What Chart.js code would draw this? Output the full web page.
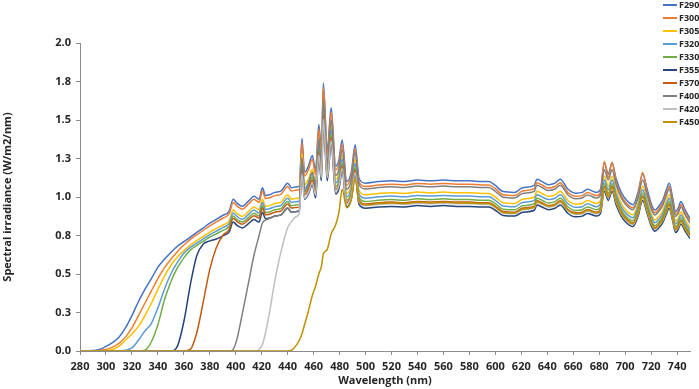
<!DOCTYPE html>
<html>
<head>
<meta charset="utf-8">
<script src="https://cdn.jsdelivr.net/npm/chart.js@4.4.1/dist/chart.umd.min.js"></script>
<style>
html,body{margin:0;padding:0;background:#fff;}
#wrap{position:relative;width:699px;height:389px;}
canvas{display:block;}
</style>
</head>
<body>
<div id="wrap"><canvas id="c" width="699" height="389"></canvas></div>
<script>
// ---- data ----
const wavelengths = [280,285,290,295,300,305,310,315,320,325,
330,335,340,345,350,355,360,365,370,375,
380,385,390,395,398,401,405,410,414,418,
420.5,423,426,430,435,440,443,446,449,451,
453,456,459,461.5,464,466,467.5,470.5,473.5,477,
479.5,482,485.5,489,492,495,500,510,520,530,
540,550,560,570,580,590,595,600,606,615,
621,630,632,636,641,646,650,656,662,667,
671,678,681,684,687,690,693,697,701,706,
710,713.5,717,720,723,726,729,731.5,734,736.5,
739,741,743,746,750];

const F290 = [0,0,.003,.01,.03,.055,.09,.15,.23,.32,
.40,.47,.545,.595,.64,.68,.71,.74,.77,.80,
.83,.855,.88,.91,.985,.96,.94,.975,1.005,.985,
1.06,1.01,1.015,1.03,1.04,1.09,1.06,1.065,1.07,1.38,
1.16,1.20,1.27,1.17,1.47,1.30,1.74,1.30,1.58,1.20,
1.24,1.37,1.10,1.16,1.34,1.12,1.09,1.10,1.105,1.10,
1.11,1.105,1.11,1.105,1.105,1.10,1.10,1.075,1.035,1.03,
1.06,1.075,1.115,1.10,1.08,1.09,1.115,1.05,1.025,1.03,
1.05,1.03,1.05,1.22,1.15,1.22,1.12,1.03,.98,.95,
1.03,1.15,1.05,.96,.915,.94,.98,1.04,1.09,1.0,
.905,.93,.97,.92,.86];

const F300 = [0,0,0,.003,.01,.025,.05,.09,.15,.23,
.31,.39,.47,.54,.595,.645,.688,.725,.755,.784,
.813,.838,.862,.892,.965,.941,.921,.956,.985,.965,
1.039,.99,.995,1.009,1.019,1.068,1.039,1.044,1.049,1.352,
1.137,1.176,1.245,1.147,1.441,1.274,1.71,1.274,1.548,1.176,
1.215,1.343,1.078,1.137,1.313,1.098,1.068,1.078,1.083,1.078,
1.088,1.083,1.088,1.083,1.083,1.078,1.078,1.054,1.014,1.009,
1.039,1.054,1.093,1.078,1.058,1.068,1.093,1.029,1.005,1.009,
1.029,1.009,1.029,1.23,1.127,1.225,1.098,1.009,.96,.931,
1.009,1.16,1.029,.941,.897,.921,.96,1.019,1.068,.98,
.887,.911,.951,.902,.843];

const F305 = [0,0,0,0,.003,.01,.03,.07,.11,.16,
.23,.31,.40,.485,.555,.61,.652,.688,.716,.744,
.772,.795,.818,.846,.916,.893,.874,.907,.935,.916,
.986,.939,.944,.958,.967,1.014,.986,.990,.995,1.283,
1.079,1.116,1.181,1.088,1.367,1.209,1.62,1.209,1.469,1.116,
1.153,1.274,1.023,1.079,1.246,1.042,1.014,1.023,1.028,1.023,
1.032,1.028,1.032,1.028,1.028,1.023,1.023,1.0,.963,.958,
.986,1.0,1.037,1.023,1.004,1.014,1.037,.977,.953,.958,
.977,.958,.977,1.135,1.07,1.135,1.042,.958,.911,.884,
.958,1.07,.977,.893,.851,.874,.911,.967,1.014,.93,
.842,.865,.902,.856,.80];

const F320 = [0,0,0,0,0,0,0,.005,.02,.07,
.13,.18,.28,.40,.50,.575,.635,.673,.701,.728,
.755,.778,.801,.828,.896,.874,.855,.887,.915,.896,
.965,.919,.924,.937,.946,.992,.965,.969,.974,1.256,
1.056,1.092,1.156,1.065,1.338,1.183,1.585,1.183,1.438,1.092,
1.128,1.247,1.001,1.056,1.219,1.019,.992,1.001,1.006,1.001,
1.01,1.006,1.01,1.006,1.006,1.001,1.001,.978,.942,.937,
.965,.978,1.015,1.001,.983,.992,1.015,.956,.933,.937,
.956,.937,.956,1.11,1.047,1.11,1.019,.937,.892,.865,
.937,1.047,.956,.874,.833,.855,.892,.946,.992,.91,
.824,.846,.883,.837,.783];

const F330 = [0,0,0,0,0,0,0,0,0,0,
.005,.06,.17,.33,.45,.54,.605,.655,.685,.712,
.739,.761,.783,.81,.877,.854,.837,.868,.894,.877,
.943,.899,.903,.917,.926,.970,.943,.948,.952,1.228,
1.032,1.068,1.13,1.041,1.308,1.157,1.549,1.157,1.406,1.068,
1.104,1.219,.979,1.032,1.193,.997,.970,.979,.983,.979,
.988,.983,.988,.983,.983,.979,.979,.957,.921,.917,
.943,.957,.992,.979,.961,.970,.992,.935,.912,.917,
.935,.917,.935,1.086,1.024,1.086,.997,.917,.872,.846,
.917,1.024,.935,.854,.814,.837,.872,.926,.970,.89,
.805,.828,.863,.819,.765];

const F355 = [0,0,0,0,0,0,0,0,0,0,
0,0,0,0,0,.03,.19,.43,.62,.695,
.715,.727,.748,.774,.837,.816,.799,.829,.854,.837,
.901,.859,.863,.876,.884,.927,.901,.905,.91,1.173,
.986,1.02,1.08,.995,1.25,1.105,1.479,1.105,1.343,1.02,
1.054,1.165,.935,.986,1.139,.952,.927,.935,.939,.935,
.944,.939,.944,.939,.939,.935,.935,.914,.88,.876,
.901,.914,.948,.935,.918,.927,.948,.893,.871,.876,
.893,.876,.893,1.037,.978,1.037,.952,.876,.833,.808,
.876,.978,.893,.816,.778,.799,.833,.884,.927,.85,
.769,.791,.825,.782,.731];

const F370 = [0,0,0,0,0,0,0,0,0,0,
0,0,0,0,0,0,0,.01,.12,.32,
.53,.67,.75,.79,.862,.84,.823,.853,.879,.862,
.928,.884,.888,.901,.91,.954,.928,.932,.936,1.208,
1.015,1.05,1.111,1.024,1.286,1.138,1.523,1.138,1.383,1.05,
1.085,1.199,.963,1.015,1.173,.98,.954,.963,.967,.963,
.971,.967,.971,.967,.967,.963,.963,.941,.906,.901,
.928,.941,.976,.963,.945,.954,.976,.919,.897,.901,
.919,.901,.919,1.068,1.006,1.068,.98,.901,.858,.831,
.901,1.006,.919,.84,.801,.823,.858,.91,.954,.875,
.792,.814,.849,.805,.753];

const F400 = [0,0,0,0,0,0,0,0,0,0,
0,0,0,0,0,0,0,0,0,0,
0,0,0,0,.01,.08,.24,.45,.62,.75,
.83,.85,.86,.875,.885,.93,.90,.905,.915,1.25,
1.04,1.08,1.16,1.07,1.38,1.21,1.63,1.22,1.50,1.14,
1.18,1.31,1.05,1.11,1.293,1.081,1.052,1.062,1.066,1.062,
1.071,1.066,1.071,1.066,1.066,1.062,1.062,1.037,.999,.994,
1.023,1.037,1.076,1.062,1.042,1.052,1.076,1.013,.989,.994,
1.013,.994,1.013,1.177,1.11,1.177,1.081,.994,.946,.917,
.994,1.11,1.013,.926,.883,.907,.946,1.004,1.052,.965,
.873,.897,.936,.888,.83];

const F420 = [0,0,0,0,0,0,0,0,0,0,
0,0,0,0,0,0,0,0,0,0,
0,0,0,0,0,0,0,0,0,.01,
.04,.12,.25,.45,.65,.80,.84,.87,.90,1.15,
.99,1.03,1.09,1.012,1.272,1.125,1.505,1.125,1.367,1.038,
1.073,1.185,.952,1.003,1.159,.969,.943,.952,.956,.952,
.96,.956,.96,.956,.956,.952,.952,.93,.895,.891,
.917,.93,.964,.952,.934,.943,.964,.908,.887,.891,
.908,.891,.908,1.055,.995,1.055,.969,.891,.848,.822,
.891,.995,.908,.83,.791,.813,.848,.90,.943,.865,
.783,.804,.839,.796,.744];

const F450 = [0,0,0,0,0,0,0,0,0,0,
0,0,0,0,0,0,0,0,0,0,
0,0,0,0,0,0,0,0,0,0,
0,0,0,0,0,0,.005,.03,.07,.11,
.17,.26,.36,.42,.50,.55,.63,.66,.76,.82,
.90,1.05,.93,.98,1.12,.97,.948,.957,.961,.957,
.966,.961,.966,.961,.961,.957,.957,.935,.90,.896,
.922,.935,.97,.957,.94,.948,.97,.914,.892,.896,
.914,.896,.914,1.061,1.0,1.061,.974,.896,.853,.827,
.896,1.0,.914,.835,.796,.818,.853,.905,.948,.87,
.787,.809,.844,.80,.748];

const seriesNames = ['F290','F300','F305','F320','F330','F355','F370','F400','F420','F450'];
const seriesValues = [F290,F300,F305,F320,F330,F355,F370,F400,F420,F450];
const xTickValues = [280,300,320,340,360,380,400,420,440,460,480,500,520,540,560,580,600,620,640,660,680,700,720,740];
const yTickValues = [0,0.25,0.5,0.75,1.0,1.25,1.5,1.75,2.0];

// ---- styles ----
const seriesColors = ['#4472C4','#ED7D31','#FFC000','#5B9BD5','#70AD47','#264478','#C55A11','#7F7F7F','#BFBFBF','#BF9000'];
const FONT = '"Open Sans", "Liberation Sans", sans-serif';
const TEXT = '#262626';
const AXIS = '#8C8C8C';

const datasets = seriesNames.map((name, i) => ({
  label: name,
  data: wavelengths.map((x, j) => ({x: x, y: seriesValues[i][j]})),
  borderColor: seriesColors[i],
  backgroundColor: seriesColors[i],
  borderWidth: 1.5,
  pointRadius: 0,
  fill: false,
  cubicInterpolationMode: 'monotone',
  order: seriesNames.length - i
}));

const legendPlugin = {
  id: 'sideLegend',
  afterDraw(chart) {
    const ctx = chart.ctx;
    ctx.save();
    ctx.font = 'bold 9px ' + FONT;
    ctx.textBaseline = 'middle';
    ctx.textAlign = 'left';
    seriesNames.forEach((name, i) => {
      const y = 5 + i * 13;
      ctx.strokeStyle = seriesColors[i];
      ctx.lineWidth = 2;
      ctx.beginPath();
      ctx.moveTo(663, y);
      ctx.lineTo(677, y);
      ctx.stroke();
      ctx.fillStyle = TEXT;
      ctx.fillText(name, 679, y);
    });
    ctx.restore();
  }
};

new Chart(document.getElementById('c'), {
  type: 'line',
  data: { datasets },
  plugins: [legendPlugin],
  options: {
    responsive: false,
    animation: false,
    devicePixelRatio: 1,
    layout: { padding: { top: 43, right: 9, left: 0, bottom: 0 } },
    plugins: { legend: { display: false }, tooltip: { enabled: false } },
    scales: {
      x: {
        type: 'linear',
        min: 280, max: 750,
        afterBuildTicks(scale) { scale.ticks = xTickValues.map(v => ({value: v})); },
        afterFit(scale) { scale.height = 38; },
        ticks: { autoSkip: false, maxRotation: 0, padding: 5, color: TEXT,
                 font: { family: FONT, size: 11, weight: 'bold' } },
        grid: { drawOnChartArea: false, drawTicks: true, tickLength: 4, color: AXIS },
        border: { color: AXIS, width: 1 },
        title: { display: true, text: 'Wavelength (nm)', color: TEXT,
                 font: { family: FONT, size: 11, weight: 'bold' }, padding: { top: 0, bottom: 2 } }
      },
      y: {
        type: 'linear',
        min: 0, max: 2,
        afterBuildTicks(scale) { scale.ticks = yTickValues.map(v => ({value: v})); },
        afterFit(scale) { scale.width = 80; },
        ticks: { padding: 5, color: TEXT, callback: v => Number(v).toFixed(1),
                 font: { family: FONT, size: 11, weight: 'bold' } },
        grid: { drawOnChartArea: false, drawTicks: true, tickLength: 4, color: AXIS },
        border: { color: AXIS, width: 1 },
        title: { display: true, text: 'Spectral irradiance (W/m2/nm)', color: TEXT,
                 font: { family: FONT, size: 11, weight: 'bold' }, padding: { top: 1, bottom: 0 } }
      }
    }
  }
});
</script>
</body>
</html>
